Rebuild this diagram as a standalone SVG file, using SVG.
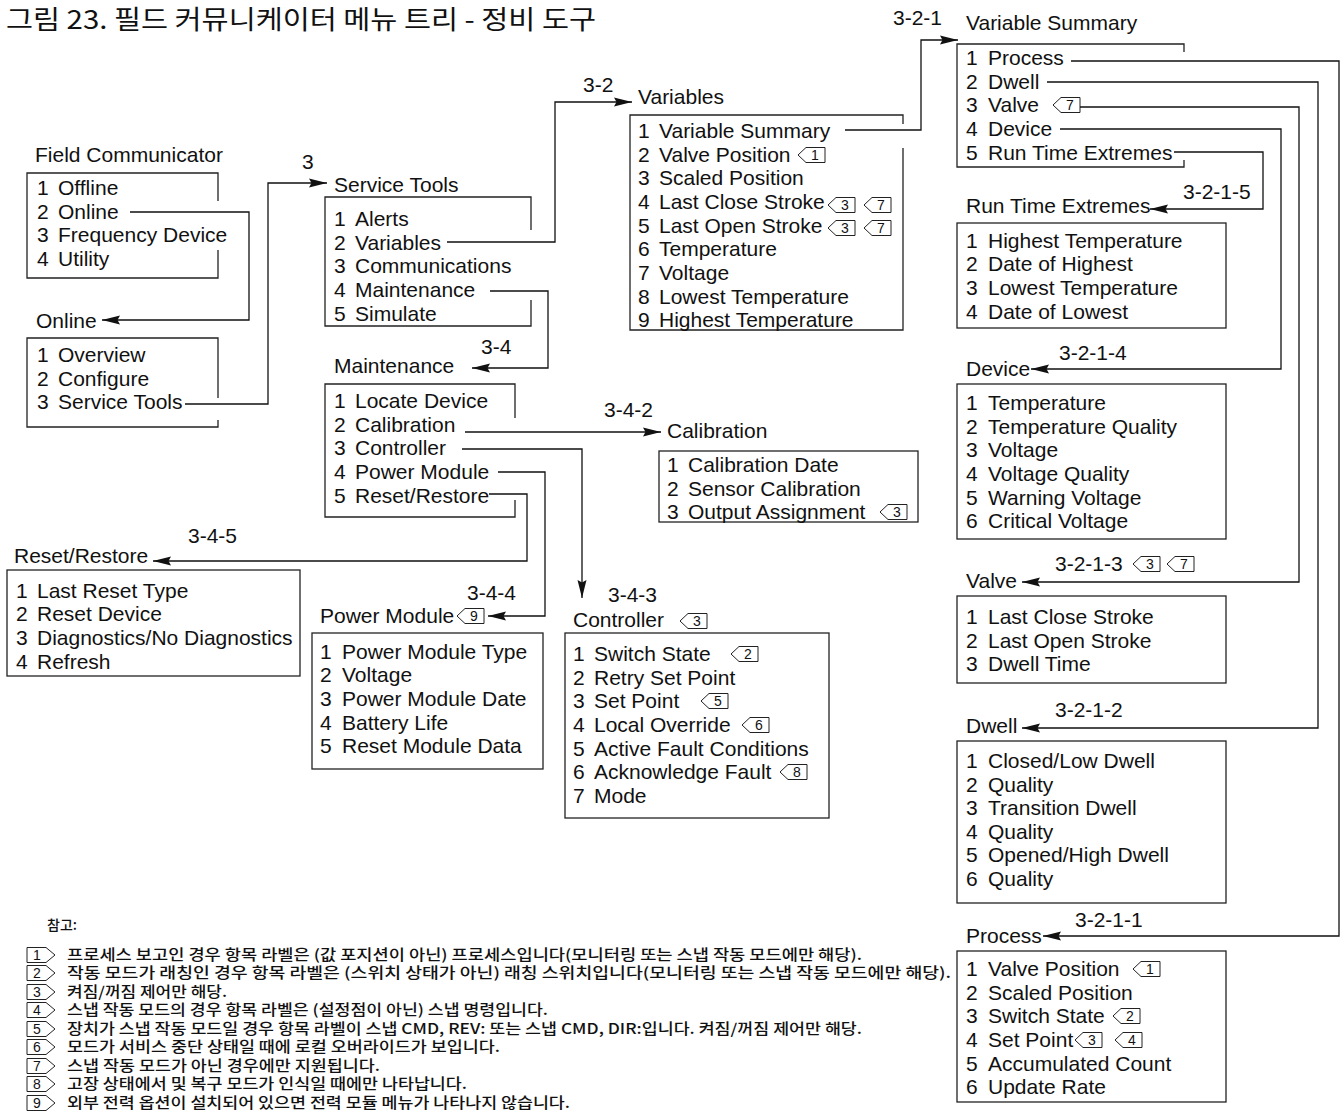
<svg xmlns="http://www.w3.org/2000/svg" width="1344" height="1116" viewBox="0 0 1344 1116">
  <style>
    .t { font-family: "Liberation Sans", Arial, Helvetica, sans-serif; font-size: 21px; fill: #111; }
    .box { fill: none; stroke: #222; stroke-width: 1.3; }
    .wire { fill: none; stroke: #111; stroke-width: 1.3; }
    .flag use { fill: #fff; stroke: #222; stroke-width: 1; }
    .flag text { font-family: "Liberation Sans", Arial, sans-serif; font-size: 14px; fill: #111; text-anchor: middle; }
    .ko { font-family: "Noto Sans CJK KR", "Noto Sans CJK SC", sans-serif; fill: #111; }
    .note { font-size: 14.5px; font-weight: 500; }
  </style>
  <defs>
    <marker id="arr" viewBox="0 0 18 10" refX="18" refY="5" markerWidth="18" markerHeight="10" markerUnits="userSpaceOnUse" orient="auto">
      <path d="M0,0.5 L18,5 L0,9.5 L2.5,5 Z" fill="#111"/>
    </marker>
    <!-- left-pointing note tag used beside menu items -->
    <path id="tagL" d="M0,0 L8,-7.5 H27 V7.5 H8 Z"/>
    <!-- right-pointing note tag used in the notes list -->
    <path id="tagR" d="M0,-7.5 H19 L28,0 L19,7.5 H0 Z"/>
  </defs>
  <rect width="1344" height="1116" fill="#fff"/>

  <text class="ko" x="6" y="29" font-size="26" textLength="590" lengthAdjust="spacingAndGlyphs">그림 23. 필드 커뮤니케이터 메뉴 트리 - 정비 도구</text>

  <!-- Field Communicator -->
  <g id="field-communicator">
    <text class="t" x="35" y="162">Field Communicator</text>
    <path class="box" d="M218,201 V173 H27 V278 H218 V250"/>
    <text class="t" y="195"><tspan x="37">1</tspan><tspan x="58">Offline</tspan></text>
    <text class="t" y="219"><tspan x="37">2</tspan><tspan x="58">Online</tspan></text>
    <text class="t" y="242"><tspan x="37">3</tspan><tspan x="58">Frequency Device</tspan></text>
    <text class="t" y="266"><tspan x="37">4</tspan><tspan x="58">Utility</tspan></text>
  </g>

  <!-- Online -->
  <g id="online">
    <text class="t" x="36" y="328">Online</text>
    <path class="box" d="M218,398 V338 H27 V427 H218 V420"/>
    <text class="t" y="362"><tspan x="37">1</tspan><tspan x="58">Overview</tspan></text>
    <text class="t" y="386"><tspan x="37">2</tspan><tspan x="58">Configure</tspan></text>
    <text class="t" y="409"><tspan x="37">3</tspan><tspan x="58">Service Tools</tspan></text>
  </g>

  <!-- Service Tools -->
  <g id="service-tools">
    <text class="t" x="334" y="192">Service Tools</text>
    <path class="box" d="M531,230 V197 H325 V326 H531 V300"/>
    <text class="t" y="226"><tspan x="334">1</tspan><tspan x="355">Alerts</tspan></text>
    <text class="t" y="250"><tspan x="334">2</tspan><tspan x="355">Variables</tspan></text>
    <text class="t" y="273"><tspan x="334">3</tspan><tspan x="355">Communications</tspan></text>
    <text class="t" y="297"><tspan x="334">4</tspan><tspan x="355">Maintenance</tspan></text>
    <text class="t" y="321"><tspan x="334">5</tspan><tspan x="355">Simulate</tspan></text>
  </g>

  <!-- Variables -->
  <g id="variables">
    <text class="t" x="638" y="104">Variables</text>
    <path class="box" d="M903,124 V115 H630 V330 H903 V148"/>
    <text class="t" y="138"><tspan x="638">1</tspan><tspan x="659">Variable Summary</tspan></text>
    <text class="t" y="162"><tspan x="638">2</tspan><tspan x="659">Valve Position</tspan></text>
    <text class="t" y="185"><tspan x="638">3</tspan><tspan x="659">Scaled Position</tspan></text>
    <text class="t" y="209"><tspan x="638">4</tspan><tspan x="659">Last Close Stroke</tspan></text>
    <text class="t" y="233"><tspan x="638">5</tspan><tspan x="659">Last Open Stroke</tspan></text>
    <text class="t" y="256"><tspan x="638">6</tspan><tspan x="659">Temperature</tspan></text>
    <text class="t" y="280"><tspan x="638">7</tspan><tspan x="659">Voltage</tspan></text>
    <text class="t" y="304"><tspan x="638">8</tspan><tspan x="659">Lowest Temperature</tspan></text>
    <text class="t" y="327"><tspan x="638">9</tspan><tspan x="659">Highest Temperature</tspan></text>
    <g class="flag" transform="translate(798,155)"><use href="#tagL"/><text x="17" y="5">1</text></g>
    <g class="flag" transform="translate(828,205)"><use href="#tagL"/><text x="17" y="5">3</text></g>
    <g class="flag" transform="translate(864,205)"><use href="#tagL"/><text x="17" y="5">7</text></g>
    <g class="flag" transform="translate(828,228)"><use href="#tagL"/><text x="17" y="5">3</text></g>
    <g class="flag" transform="translate(864,228)"><use href="#tagL"/><text x="17" y="5">7</text></g>
  </g>

  <!-- Variable Summary -->
  <g id="variable-summary">
    <text class="t" x="966" y="30">Variable Summary</text>
    <path class="box" d="M1184,52 V44 H957 V167 H1184 V160"/>
    <text class="t" y="65"><tspan x="966">1</tspan><tspan x="988">Process</tspan></text>
    <text class="t" y="89"><tspan x="966">2</tspan><tspan x="988">Dwell</tspan></text>
    <text class="t" y="112"><tspan x="966">3</tspan><tspan x="988">Valve</tspan></text>
    <text class="t" y="136"><tspan x="966">4</tspan><tspan x="988">Device</tspan></text>
    <text class="t" y="160"><tspan x="966">5</tspan><tspan x="988">Run Time Extremes</tspan></text>
    <g class="flag" transform="translate(1053,105)"><use href="#tagL"/><text x="17" y="5">7</text></g>
  </g>

  <!-- Run Time Extremes -->
  <g id="run-time-extremes">
    <text class="t" x="966" y="213">Run Time Extremes</text>
    <rect class="box" x="957" y="223" width="269" height="105"/>
    <text class="t" y="248"><tspan x="966">1</tspan><tspan x="988">Highest Temperature</tspan></text>
    <text class="t" y="271"><tspan x="966">2</tspan><tspan x="988">Date of Highest</tspan></text>
    <text class="t" y="295"><tspan x="966">3</tspan><tspan x="988">Lowest Temperature</tspan></text>
    <text class="t" y="319"><tspan x="966">4</tspan><tspan x="988">Date of Lowest</tspan></text>
  </g>

  <!-- Device -->
  <g id="device">
    <text class="t" x="966" y="376">Device</text>
    <rect class="box" x="957" y="384" width="269" height="155"/>
    <text class="t" y="410"><tspan x="966">1</tspan><tspan x="988">Temperature</tspan></text>
    <text class="t" y="434"><tspan x="966">2</tspan><tspan x="988">Temperature Quality</tspan></text>
    <text class="t" y="457"><tspan x="966">3</tspan><tspan x="988">Voltage</tspan></text>
    <text class="t" y="481"><tspan x="966">4</tspan><tspan x="988">Voltage Quality</tspan></text>
    <text class="t" y="505"><tspan x="966">5</tspan><tspan x="988">Warning Voltage</tspan></text>
    <text class="t" y="528"><tspan x="966">6</tspan><tspan x="988">Critical Voltage</tspan></text>
  </g>

  <!-- Valve -->
  <g id="valve">
    <text class="t" x="966" y="588">Valve</text>
    <rect class="box" x="957" y="596" width="269" height="87"/>
    <text class="t" y="624"><tspan x="966">1</tspan><tspan x="988">Last Close Stroke</tspan></text>
    <text class="t" y="648"><tspan x="966">2</tspan><tspan x="988">Last Open Stroke</tspan></text>
    <text class="t" y="671"><tspan x="966">3</tspan><tspan x="988">Dwell Time</tspan></text>
  </g>

  <!-- Dwell -->
  <g id="dwell">
    <text class="t" x="966" y="733">Dwell</text>
    <rect class="box" x="957" y="741" width="269" height="162"/>
    <text class="t" y="768"><tspan x="966">1</tspan><tspan x="988">Closed/Low Dwell</tspan></text>
    <text class="t" y="792"><tspan x="966">2</tspan><tspan x="988">Quality</tspan></text>
    <text class="t" y="815"><tspan x="966">3</tspan><tspan x="988">Transition Dwell</tspan></text>
    <text class="t" y="839"><tspan x="966">4</tspan><tspan x="988">Quality</tspan></text>
    <text class="t" y="862"><tspan x="966">5</tspan><tspan x="988">Opened/High Dwell</tspan></text>
    <text class="t" y="886"><tspan x="966">6</tspan><tspan x="988">Quality</tspan></text>
  </g>

  <!-- Process -->
  <g id="process">
    <text class="t" x="966" y="943">Process</text>
    <rect class="box" x="957" y="951" width="269" height="151"/>
    <text class="t" y="976"><tspan x="966">1</tspan><tspan x="988">Valve Position</tspan></text>
    <text class="t" y="1000"><tspan x="966">2</tspan><tspan x="988">Scaled Position</tspan></text>
    <text class="t" y="1023"><tspan x="966">3</tspan><tspan x="988">Switch State</tspan></text>
    <text class="t" y="1047"><tspan x="966">4</tspan><tspan x="988">Set Point</tspan></text>
    <text class="t" y="1071"><tspan x="966">5</tspan><tspan x="988">Accumulated Count</tspan></text>
    <text class="t" y="1094"><tspan x="966">6</tspan><tspan x="988">Update Rate</tspan></text>
    <g class="flag" transform="translate(1133,969)"><use href="#tagL"/><text x="17" y="5">1</text></g>
    <g class="flag" transform="translate(1113,1016)"><use href="#tagL"/><text x="17" y="5">2</text></g>
    <g class="flag" transform="translate(1075,1040)"><use href="#tagL"/><text x="17" y="5">3</text></g>
    <g class="flag" transform="translate(1115,1040)"><use href="#tagL"/><text x="17" y="5">4</text></g>
  </g>

  <!-- Maintenance -->
  <g id="maintenance">
    <text class="t" x="334" y="373">Maintenance</text>
    <path class="box" d="M515,418 V384 H325 V517 H515 V500"/>
    <text class="t" y="408"><tspan x="334">1</tspan><tspan x="355">Locate Device</tspan></text>
    <text class="t" y="432"><tspan x="334">2</tspan><tspan x="355">Calibration</tspan></text>
    <text class="t" y="455"><tspan x="334">3</tspan><tspan x="355">Controller</tspan></text>
    <text class="t" y="479"><tspan x="334">4</tspan><tspan x="355">Power Module</tspan></text>
    <text class="t" y="503"><tspan x="334">5</tspan><tspan x="355">Reset/Restore</tspan></text>
  </g>

  <!-- Calibration -->
  <g id="calibration">
    <text class="t" x="667" y="438">Calibration</text>
    <rect class="box" x="659" y="451" width="259" height="71"/>
    <text class="t" y="472"><tspan x="667">1</tspan><tspan x="688">Calibration Date</tspan></text>
    <text class="t" y="496"><tspan x="667">2</tspan><tspan x="688">Sensor Calibration</tspan></text>
    <text class="t" y="519"><tspan x="667">3</tspan><tspan x="688">Output Assignment</tspan></text>
    <g class="flag" transform="translate(880,512)"><use href="#tagL"/><text x="17" y="5">3</text></g>
  </g>

  <!-- Controller -->
  <g id="controller">
    <text class="t" x="573" y="627">Controller</text>
    <g class="flag" transform="translate(680,621)"><use href="#tagL"/><text x="17" y="5">3</text></g>
    <rect class="box" x="565" y="633" width="264" height="185"/>
    <text class="t" y="661"><tspan x="573">1</tspan><tspan x="594">Switch State</tspan></text>
    <text class="t" y="685"><tspan x="573">2</tspan><tspan x="594">Retry Set Point</tspan></text>
    <text class="t" y="708"><tspan x="573">3</tspan><tspan x="594">Set Point</tspan></text>
    <text class="t" y="732"><tspan x="573">4</tspan><tspan x="594">Local Override</tspan></text>
    <text class="t" y="756"><tspan x="573">5</tspan><tspan x="594">Active Fault Conditions</tspan></text>
    <text class="t" y="779"><tspan x="573">6</tspan><tspan x="594">Acknowledge Fault</tspan></text>
    <text class="t" y="803"><tspan x="573">7</tspan><tspan x="594">Mode</tspan></text>
    <g class="flag" transform="translate(731,654)"><use href="#tagL"/><text x="17" y="5">2</text></g>
    <g class="flag" transform="translate(701,701)"><use href="#tagL"/><text x="17" y="5">5</text></g>
    <g class="flag" transform="translate(742,725)"><use href="#tagL"/><text x="17" y="5">6</text></g>
    <g class="flag" transform="translate(780,772)"><use href="#tagL"/><text x="17" y="5">8</text></g>
  </g>

  <!-- Power Module -->
  <g id="power-module">
    <text class="t" x="320" y="623">Power Module</text>
    <g class="flag" transform="translate(457,616)"><use href="#tagL"/><text x="17" y="5">9</text></g>
    <rect class="box" x="312" y="633" width="231" height="136"/>
    <text class="t" y="659"><tspan x="320">1</tspan><tspan x="342">Power Module Type</tspan></text>
    <text class="t" y="682"><tspan x="320">2</tspan><tspan x="342">Voltage</tspan></text>
    <text class="t" y="706"><tspan x="320">3</tspan><tspan x="342">Power Module Date</tspan></text>
    <text class="t" y="730"><tspan x="320">4</tspan><tspan x="342">Battery Life</tspan></text>
    <text class="t" y="753"><tspan x="320">5</tspan><tspan x="342">Reset Module Data</tspan></text>
  </g>

  <!-- Reset/Restore -->
  <g id="reset-restore">
    <text class="t" x="14" y="563">Reset/Restore</text>
    <rect class="box" x="7" y="570" width="293" height="106"/>
    <text class="t" y="598"><tspan x="16">1</tspan><tspan x="37">Last Reset Type</tspan></text>
    <text class="t" y="621"><tspan x="16">2</tspan><tspan x="37">Reset Device</tspan></text>
    <text class="t" y="645"><tspan x="16">3</tspan><tspan x="37">Diagnostics/No Diagnostics</tspan></text>
    <text class="t" y="669"><tspan x="16">4</tspan><tspan x="37">Refresh</tspan></text>
  </g>

  <!-- Connectors with their menu-path labels -->
  <g id="connectors">
    <path class="wire" marker-end="url(#arr)" d="M130,212 H249 V320 H102"/>
    <path class="wire" marker-end="url(#arr)" d="M185,404 H268 V183 H327"/>
    <text class="t" x="302" y="169">3</text>
    <path class="wire" marker-end="url(#arr)" d="M447,242 H555 V102 H632"/>
    <text class="t" x="583" y="92">3-2</text>
    <path class="wire" marker-end="url(#arr)" d="M845,130 H921 V40 H958"/>
    <text class="t" x="893" y="25">3-2-1</text>
    <path class="wire" marker-end="url(#arr)" d="M490,291 H548 V368 H472"/>
    <text class="t" x="481" y="354">3-4</text>
    <path class="wire" marker-end="url(#arr)" d="M465,432 H661"/>
    <text class="t" x="604" y="417">3-4-2</text>
    <path class="wire" marker-end="url(#arr)" d="M462,449 H582 V598"/>
    <text class="t" x="608" y="602">3-4-3</text>
    <path class="wire" marker-end="url(#arr)" d="M498,472 H545 V616 H488"/>
    <text class="t" x="467" y="600">3-4-4</text>
    <path class="wire" marker-end="url(#arr)" d="M489,494 H527 V561 H153"/>
    <text class="t" x="188" y="543">3-4-5</text>
    <path class="wire" marker-end="url(#arr)" d="M1071,61 H1339 V936 H1043"/>
    <text class="t" x="1075" y="927">3-2-1-1</text>
    <path class="wire" marker-end="url(#arr)" d="M1047,82 H1318 V728 H1022"/>
    <text class="t" x="1055" y="717">3-2-1-2</text>
    <path class="wire" marker-end="url(#arr)" d="M1080,107 H1299 V582 H1022"/>
    <text class="t" x="1055" y="571">3-2-1-3</text>
    <g class="flag" transform="translate(1133,564)"><use href="#tagL"/><text x="17" y="5">3</text></g>
    <g class="flag" transform="translate(1167,564)"><use href="#tagL"/><text x="17" y="5">7</text></g>
    <path class="wire" marker-end="url(#arr)" d="M1060,129 H1281 V369 H1031"/>
    <text class="t" x="1059" y="360">3-2-1-4</text>
    <path class="wire" marker-end="url(#arr)" d="M1174,152 H1263 V209 H1150"/>
    <text class="t" x="1183" y="199">3-2-1-5</text>
  </g>

  <!-- Notes -->
  <g id="notes">
    <text class="ko" x="47" y="930" font-size="14" font-weight="500">참고:</text>
    <g class="flag" transform="translate(27,955)"><use href="#tagR"/><text x="10" y="5">1</text></g>
    <g class="flag" transform="translate(27,973)"><use href="#tagR"/><text x="10" y="5">2</text></g>
    <g class="flag" transform="translate(27,992)"><use href="#tagR"/><text x="10" y="5">3</text></g>
    <g class="flag" transform="translate(27,1010)"><use href="#tagR"/><text x="10" y="5">4</text></g>
    <g class="flag" transform="translate(27,1029)"><use href="#tagR"/><text x="10" y="5">5</text></g>
    <g class="flag" transform="translate(27,1047)"><use href="#tagR"/><text x="10" y="5">6</text></g>
    <g class="flag" transform="translate(27,1066)"><use href="#tagR"/><text x="10" y="5">7</text></g>
    <g class="flag" transform="translate(27,1084)"><use href="#tagR"/><text x="10" y="5">8</text></g>
    <g class="flag" transform="translate(27,1103)"><use href="#tagR"/><text x="10" y="5">9</text></g>
    <text class="ko note" x="67" y="960" textLength="795" lengthAdjust="spacingAndGlyphs">프로세스 보고인 경우 항목 라벨은 (값 포지션이 아닌) 프로세스입니다(모니터링 또는 스냅 작동 모드에만 해당).</text>
    <text class="ko note" x="67" y="978" textLength="884" lengthAdjust="spacingAndGlyphs">작동 모드가 래칭인 경우 항목 라벨은 (스위치 상태가 아닌) 래칭 스위치입니다(모니터링 또는 스냅 작동 모드에만 해당).</text>
    <text class="ko note" x="67" y="997" textLength="160" lengthAdjust="spacingAndGlyphs">켜짐/꺼짐 제어만 해당.</text>
    <text class="ko note" x="67" y="1015" textLength="481" lengthAdjust="spacingAndGlyphs">스냅 작동 모드의 경우 항목 라벨은 (설정점이 아닌) 스냅 명령입니다.</text>
    <text class="ko note" x="67" y="1034" textLength="795" lengthAdjust="spacingAndGlyphs">장치가 스냅 작동 모드일 경우 항목 라벨이 스냅 CMD, REV: 또는 스냅 CMD, DIR:입니다. 켜짐/꺼짐 제어만 해당.</text>
    <text class="ko note" x="67" y="1052" textLength="433" lengthAdjust="spacingAndGlyphs">모드가 서비스 중단 상태일 때에 로컬 오버라이드가 보입니다.</text>
    <text class="ko note" x="67" y="1071" textLength="313" lengthAdjust="spacingAndGlyphs">스냅 작동 모드가 아닌 경우에만 지원됩니다.</text>
    <text class="ko note" x="67" y="1089" textLength="400" lengthAdjust="spacingAndGlyphs">고장 상태에서 및 복구 모드가 인식일 때에만 나타납니다.</text>
    <text class="ko note" x="67" y="1108" textLength="503" lengthAdjust="spacingAndGlyphs">외부 전력 옵션이 설치되어 있으면 전력 모듈 메뉴가 나타나지 않습니다.</text>
  </g>
</svg>
